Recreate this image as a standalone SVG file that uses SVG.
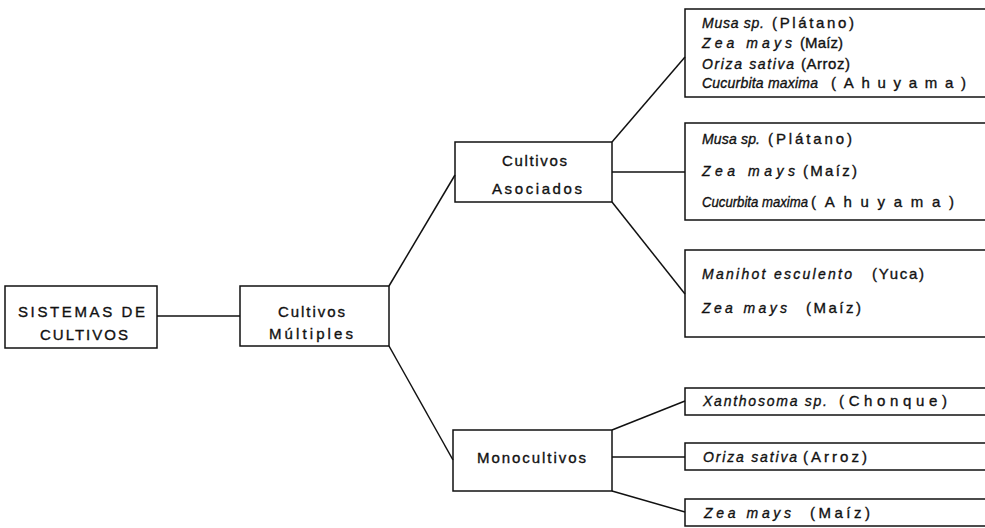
<svg xmlns="http://www.w3.org/2000/svg" width="985" height="528" viewBox="0 0 985 528">
<style>
.box{fill:none;stroke:#111;stroke-width:1.5}
.ln{stroke:#111;stroke-width:1.5;fill:none}
text{font-family:"Liberation Sans",Arial,sans-serif;fill:#111;stroke:#111;stroke-width:0.35;font-size:15px}
.n{font-size:15px}
.it{font-style:italic;font-size:14px}
</style>
<rect width="985" height="528" fill="#fff"/>
<g id="connectors">
<line class="ln" x1="157" y1="316" x2="240" y2="316"/>
<line class="ln" x1="389" y1="286" x2="455" y2="175"/>
<line class="ln" x1="389" y1="346" x2="453" y2="460"/>
<line class="ln" x1="612" y1="142" x2="685" y2="57"/>
<line class="ln" x1="612" y1="172" x2="685" y2="172"/>
<line class="ln" x1="612" y1="202" x2="685" y2="294"/>
<line class="ln" x1="612" y1="430" x2="685" y2="401"/>
<line class="ln" x1="612" y1="457" x2="685" y2="457"/>
<line class="ln" x1="612" y1="491" x2="685" y2="512"/>
</g>
<g id="sistemas">
<rect class="box" x="5" y="286" width="152" height="62"/>
<text class="n" x="18" y="317" textLength="127" lengthAdjust="spacing">SISTEMAS DE</text>
<text class="n" x="40" y="340" textLength="88" lengthAdjust="spacing">CULTIVOS</text>
</g>
<g id="multiples">
<rect class="box" x="240" y="286" width="149" height="60"/>
<text class="n" x="278" y="317" textLength="67" lengthAdjust="spacing">Cultivos</text>
<text class="n" x="269" y="339" textLength="84" lengthAdjust="spacing">Múltiples</text>
</g>
<g id="asociados">
<rect class="box" x="455" y="142" width="157" height="60"/>
<text class="n" x="502" y="166" textLength="65" lengthAdjust="spacing">Cultivos</text>
<text class="n" x="492" y="194" textLength="90" lengthAdjust="spacing">Asociados</text>
</g>
<g id="monocultivos">
<rect class="box" x="453" y="430" width="159" height="61"/>
<text class="n" x="477" y="463" textLength="109" lengthAdjust="spacing">Monocultivos</text>
</g>
<g id="asoc1">
<rect class="box" x="685" y="9" width="320" height="88"/>
<text class="it" x="702" y="28" textLength="62" lengthAdjust="spacing">Musa sp.</text>
<text x="772" y="28" textLength="82" lengthAdjust="spacing">(Plátano)</text>
<text class="it" x="702" y="48" textLength="90" lengthAdjust="spacing">Zea mays</text>
<text x="800" y="48" textLength="43" lengthAdjust="spacing">(Maíz)</text>
<text class="it" x="702" y="69" textLength="92" lengthAdjust="spacing">Oriza sativa</text>
<text x="801" y="69" textLength="49" lengthAdjust="spacing">(Arroz)</text>
<text class="it" x="702" y="88" textLength="116" lengthAdjust="spacing">Cucurbita maxima</text>
<text x="831" y="88" textLength="135" lengthAdjust="spacing">(Ahuyama)</text>
</g>
<g id="asoc2">
<rect class="box" x="685" y="123" width="320" height="97"/>
<text class="it" x="702" y="144" textLength="58" lengthAdjust="spacing">Musa sp.</text>
<text x="768" y="144" textLength="84" lengthAdjust="spacing">(Plátano)</text>
<text class="it" x="702" y="176" textLength="93" lengthAdjust="spacing">Zea mays</text>
<text x="803" y="176" textLength="54" lengthAdjust="spacing">(Maíz)</text>
<text class="it" x="702" y="207" textLength="106" lengthAdjust="spacingAndGlyphs">Cucurbita maxima</text>
<text x="811" y="207" textLength="143" lengthAdjust="spacing">(Ahuyama)</text>
</g>
<g id="asoc3">
<rect class="box" x="685" y="250" width="320" height="87"/>
<text class="it" x="702" y="279" textLength="150" lengthAdjust="spacing">Manihot esculento</text>
<text x="872" y="279" textLength="52" lengthAdjust="spacing">(Yuca)</text>
<text class="it" x="702" y="313" textLength="85" lengthAdjust="spacing">Zea mays</text>
<text x="806" y="313" textLength="55" lengthAdjust="spacing">(Maíz)</text>
</g>
<g id="mono1">
<rect class="box" x="685" y="388" width="320" height="27"/>
<text class="it" x="703" y="406" textLength="124" lengthAdjust="spacing">Xanthosoma sp.</text>
<text x="839" y="406" textLength="108" lengthAdjust="spacing">(Chonque)</text>
</g>
<g id="mono2">
<rect class="box" x="685" y="443" width="320" height="27"/>
<text class="it" x="703" y="462" textLength="94" lengthAdjust="spacing">Oriza sativa</text>
<text x="803" y="462" textLength="64" lengthAdjust="spacing">(Arroz)</text>
</g>
<g id="mono3">
<rect class="box" x="685" y="499" width="320" height="27"/>
<text class="it" x="704" y="518" textLength="87" lengthAdjust="spacing">Zea mays</text>
<text x="810" y="518" textLength="60" lengthAdjust="spacing">(Maíz)</text>
</g>
</svg>
